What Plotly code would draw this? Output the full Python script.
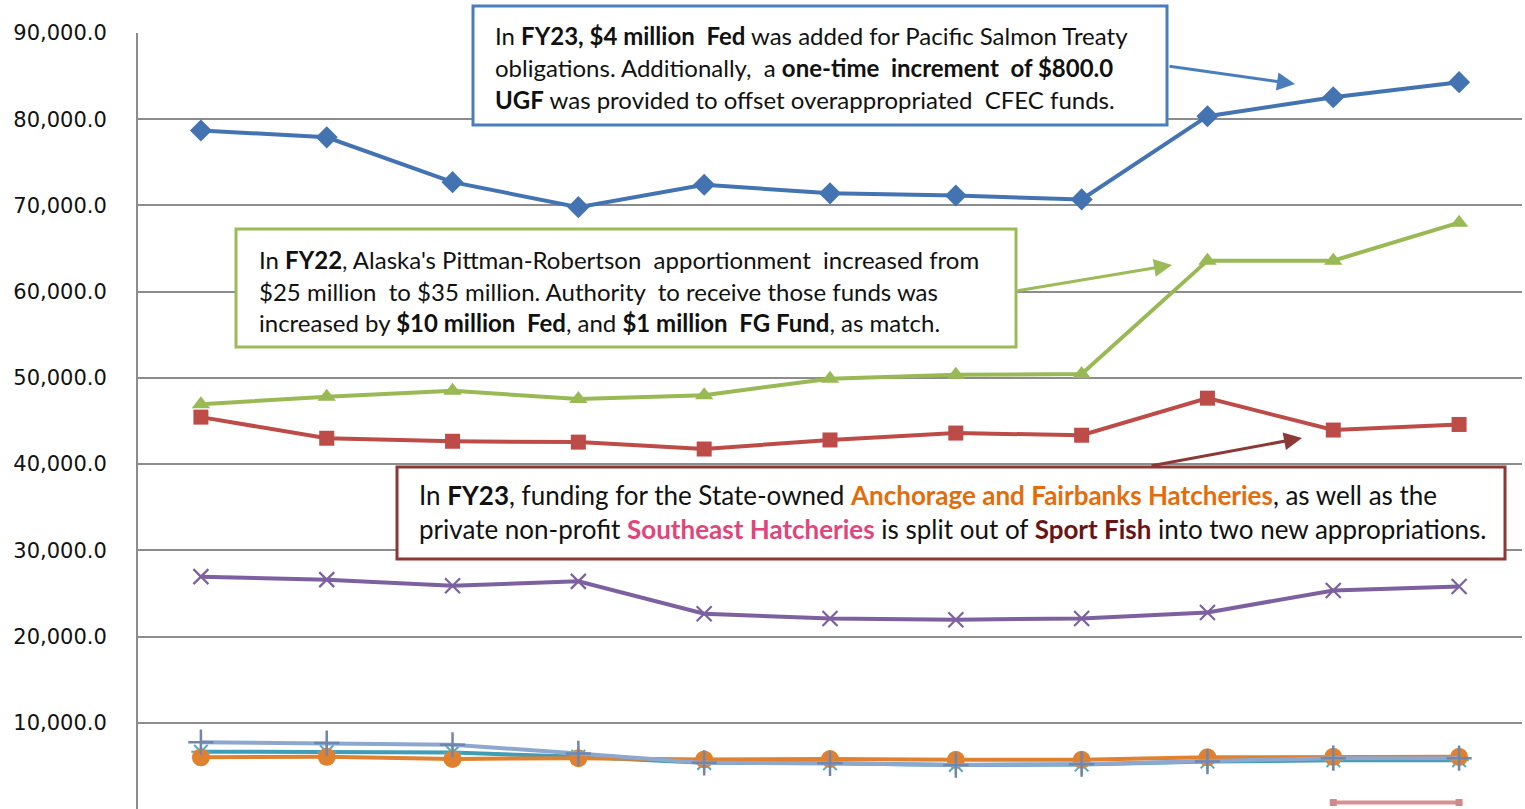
import plotly.graph_objects as go

years = ["FY14", "FY15", "FY16", "FY17", "FY18", "FY19", "FY20", "FY21", "FY22", "FY23", "FY24"]

commercial = [78700, 77900, 72700, 69800, 72400, 71400, 71150, 70700, 80350, 82550, 84300]
sport_fish = [45450, 43000, 42650, 42550, 41750, 42800, 43600, 43350, 47650, 43950, 44600]
wildlife = [46950, 47800, 48500, 47550, 48000, 49900, 50350, 50450, 63600, 63600, 68000]
subsistence = [26950, 26600, 25900, 26400, 22650, 22100, 21950, 22100, 22800, 25350, 25800]
teal_series = [6650, 6600, 6550, 6050, 5350, 5300, 5100, 5150, 5500, 5650, 5650]
anchorage_fairbanks = [6000, 6050, 5800, 5900, 5750, 5800, 5700, 5700, 6000, 6050, 6050]
lightblue_series = [7750, 7650, 7450, 6450, 5350, 5300, 5100, 5200, 5500, 5900, 5900]
southeast_hatch = [None, None, None, None, None, None, None, None, None, 750, 750]

ytick_vals = [10000, 20000, 30000, 40000, 50000, 60000, 70000, 80000, 90000]

W, H = 1525, 809
L, R, T, B = 138, 3, 33, 0
PW, PH = W - L - R, H - T - B


def px(x):
    return (x - L) / PW


def py(y):
    return (H - B - y) / PH


fig = go.Figure()

series = [
    (commercial, "#4473b2", dict(symbol="diamond", size=17, color="#4473b2")),
    (sport_fish, "#bd4b48", dict(symbol="square", size=15, color="#bd4b48")),
    (wildlife, "#98b954", dict(symbol="triangle-up", size=16, color="#98b954")),
    (subsistence, "#7d60a0", dict(symbol="x-thin-open", size=15, color="#7d60a0", line=dict(width=2.2, color="#7d60a0"))),
    (teal_series, "#3f9db5", dict(symbol="asterisk-open", size=16, color="#4bacc6", line=dict(width=2, color="#4bacc6"))),
    (anchorage_fairbanks, "#e0812f", dict(symbol="circle", size=18, color="#e0812f")),
    (lightblue_series, "#8ea7cf", dict(symbol="cross-thin-open", size=18, color="#6f86ad", line=dict(width=2.5, color="#6f86ad"))),
    (southeast_hatch, "#d99093", dict(symbol="square", size=7, color="#d08a8c")),
]

for vals, col, mk in series:
    fig.add_trace(go.Scatter(
        x=years, y=vals, mode="lines+markers",
        line=dict(color=col, width=4),
        marker=mk, showlegend=False, connectgaps=False,
    ))

shapes = []
annotations = []


def box(x0, y0, x1, y1, color):
    shapes.append(dict(type="rect", xref="paper", yref="paper",
                       x0=px(x0), x1=px(x1), y0=py(y1), y1=py(y0),
                       line=dict(color=color, width=3), fillcolor="white", layer="above"))


def text_line(x, y, txt, size, family="Lato"):
    annotations.append(dict(xref="paper", yref="paper", x=px(x), y=py(y),
                            xanchor="left", yanchor="middle", text=txt, showarrow=False,
                            font=dict(family=family, size=size, color="#111111")))


def arrow(x0, y0, x1, y1, color):
    annotations.append(dict(xref="paper", yref="paper", x=px(x1), y=py(y1),
                            ax=x0 - x1, ay=y0 - y1, axref="pixel", ayref="pixel",
                            text="", showarrow=True, arrowhead=2, arrowsize=1.2,
                            arrowwidth=3, arrowcolor=color, standoff=0, startstandoff=0))


# Box 1 (blue)
arrow(1168, 66, 1295, 84, "#4a7ebb")
box(473, 6, 1167, 125, "#4a7ebb")
text_line(493, 36, "In <b>FY23, $4 million  Fed</b> was added for Pacific Salmon Treaty", 24)
text_line(493, 68, "obligations. Additionally,  a <b>one-time  increment  of $800.0</b>", 24)
text_line(493, 99, "<b>UGF</b> was provided to offset overappropriated  CFEC funds.", 24)

# Box 2 (green)
arrow(1016, 291, 1172, 265, "#9bbb59")
box(236, 229, 1016, 347, "#9bbb59")
text_line(257, 259, "In <b>FY22</b>, Alaska's Pittman-Robertson  apportionment  increased from", 24)
text_line(257, 291, "$25 million  to $35 million. Authority  to receive those funds was", 24)
text_line(257, 322, "increased by <b>$10 million  Fed</b>, and <b>$1 million  FG Fund</b>, as match.", 24)

# Box 3 (dark red)
arrow(1150, 466, 1302, 438, "#8c3836")
box(397, 467, 1505, 559, "#8c3836")
text_line(417, 495, "In <b>FY23</b>, funding for the State-owned <b><span style='color:#e46c0a'>Anchorage and Fairbanks Hatcheries</span></b>, as well as the", 26)
text_line(417, 529, "private non-profit <b><span style='color:#e0457b'>Southeast Hatcheries</span></b> is split out of <b><span style='color:#6b1414'>Sport Fish</span></b> into two new appropriations.", 26)

fig.update_layout(
    width=W, height=H,
    margin=dict(l=L, r=R, t=T, b=B, pad=0),
    plot_bgcolor="white", paper_bgcolor="white",
    shapes=shapes, annotations=annotations,
    showlegend=False, hovermode=False,
)
fig.update_xaxes(type="category", range=[-0.5, 10.5], showticklabels=False,
                 showgrid=False, zeroline=False, showline=False, ticks="")
fig.update_yaxes(range=[0, 90000], tickvals=ytick_vals, tickformat=",.1f",
                 showgrid=True, gridcolor="#8c8c8c", gridwidth=2,
                 showline=True, linecolor="#8c8c8c", linewidth=2, zeroline=False,
                 ticks="", ticklabelstandoff=25,
                 tickfont=dict(family="DejaVu Sans", size=21, color="#111111"))

fig.write_html("out.html", config={"displayModeBar": False},
               post_script="document.body.style.margin='0px';document.body.style.overflow='hidden';")
